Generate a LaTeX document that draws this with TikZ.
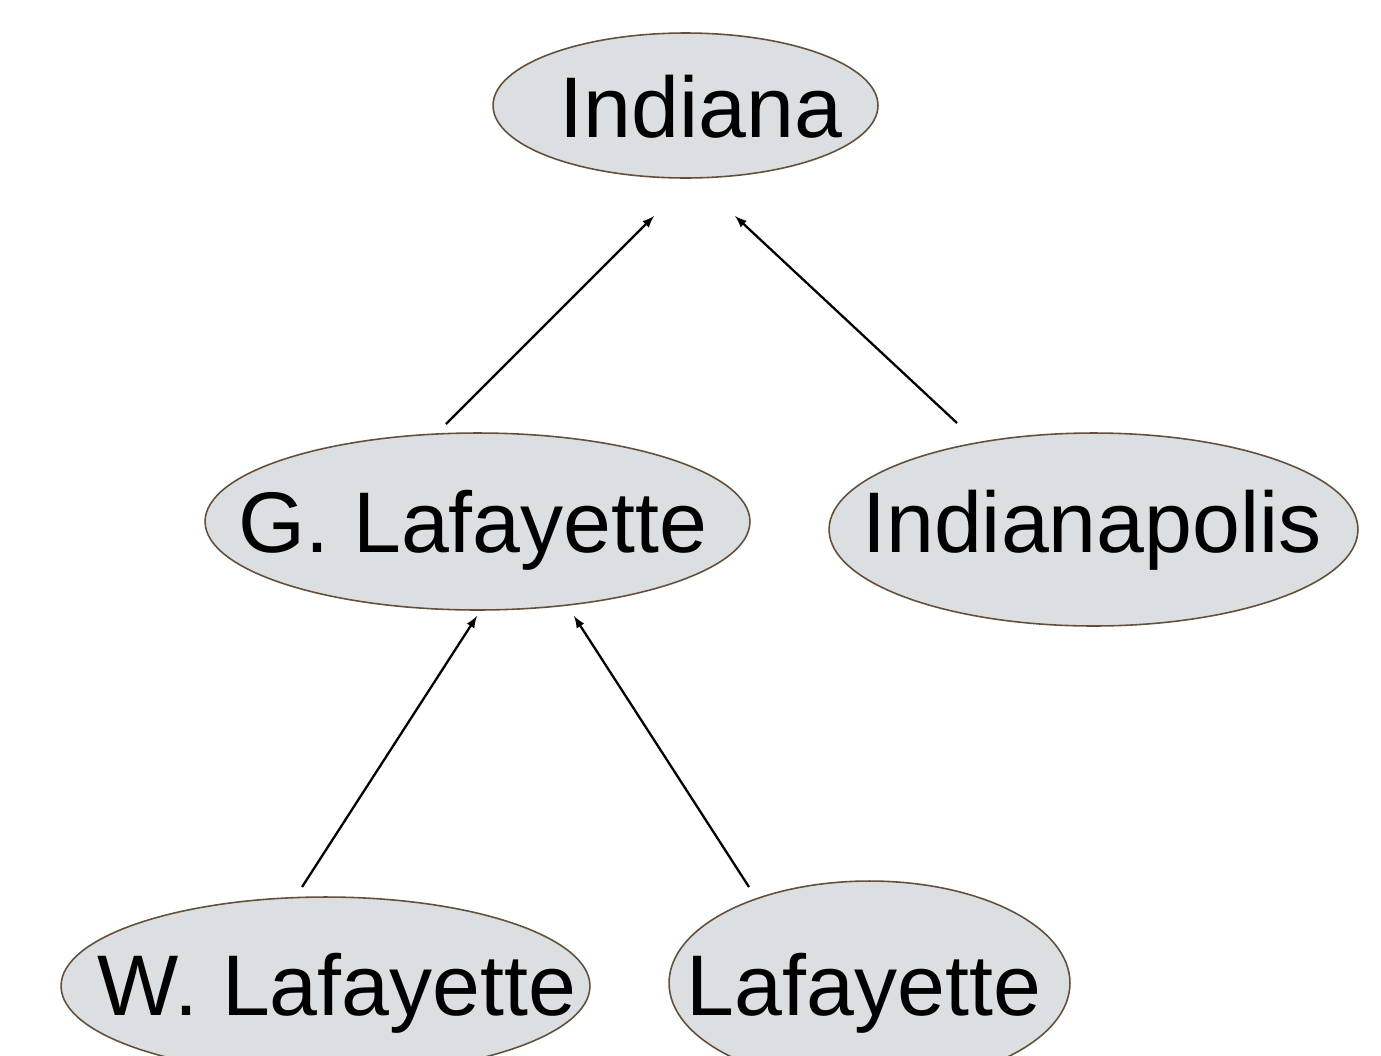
\documentclass[tikz,border=0pt]{standalone}
\usepackage{fontspec}
\setmainfont{Liberation Sans}
\usepackage{tikz}
\usetikzlibrary{shapes.geometric}
\definecolor{placefill}{RGB}{220,223,226}
\definecolor{placeline}{RGB}{98,80,58}
\tikzset{
	place/.style={ellipse, draw=placeline, fill=placefill, line width=0.9pt, inner sep=0pt},
	placename/.style={anchor=base, inner sep=0pt, font=\fontsize{49}{59}\selectfont},
	link/.style={->, line width=1.3pt}
}

\begin{document}
\begin{tikzpicture}[x=0.02cm,y=-0.02cm]
	\tikzset{>=latex}
	\useasboundingbox (0,0) rectangle (1381,1055);
	\clip (0,0) rectangle (1381,1055);
	
	% places
	\node[place, minimum width=7.7cm, minimum height=2.9cm] (ind) at (685.5,105.5) {};
	\node[place, minimum width=10.9cm, minimum height=3.54cm] (gl) at (477.5,521.5) {};
	\node[place, minimum width=10.58cm, minimum height=3.86cm] (indy) at (1093.5,529.5) {};
	\node[place, minimum width=10.58cm, minimum height=3.56cm] (wl) at (325.5,986) {};
	\node[place, minimum width=8.02cm, minimum height=4.08cm] (laf) at (869.5,983) {};
	
	\node[placename] (ind-t) at (701,137) {Indiana};
	\node[placename] (gl-t) at (473,552) {G. Lafayette};
	\node[placename] (indy-t) at (1092,552) {Indianapolis};
	\node[placename] (wl-t) at (337,1015) {W. Lafayette};
	\node[placename] (laf-t) at (864,1015) {Lafayette};
	
	% arrow ends
	\coordinate (gl-up) at (446,424);
	\coordinate (ind-l) at (654,216);
	\coordinate (indy-up) at (957,423);
	\coordinate (ind-r) at (735,216);
	\coordinate (wl-up) at (302,887);
	\coordinate (gl-l) at (477,616);
	\coordinate (laf-up) at (749,887);
	\coordinate (gl-r) at (574,616);
	
	\draw[link] (gl-up) -- (ind-l);
	\draw[link] (indy-up) -- (ind-r);
	\draw[link] (wl-up) -- (gl-l);
	\draw[link] (laf-up) -- (gl-r);
\end{tikzpicture}
\end{document}
